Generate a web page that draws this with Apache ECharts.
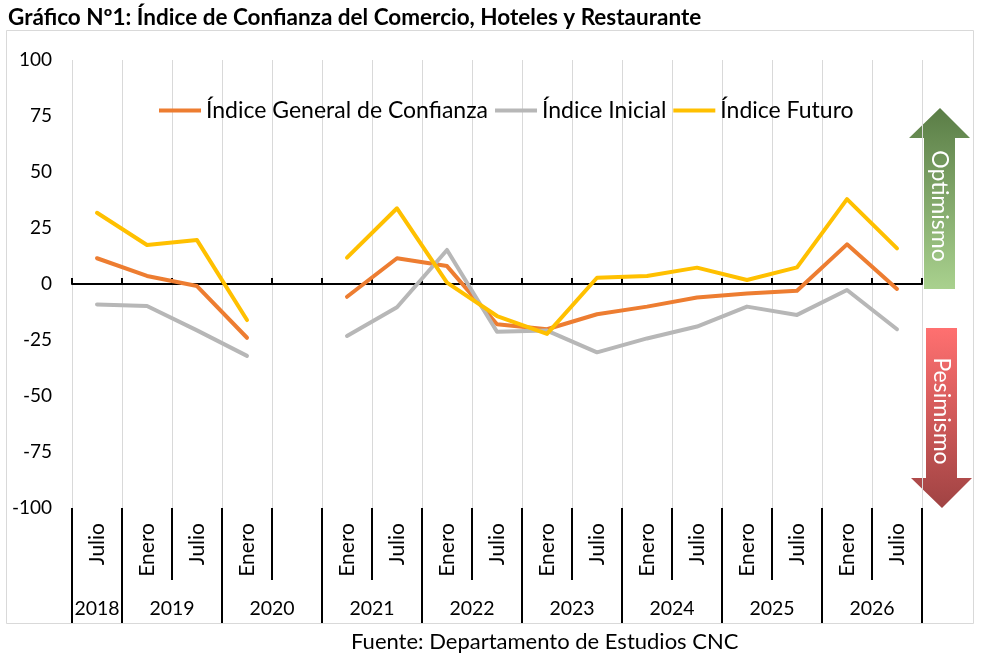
<!DOCTYPE html>
<html>
<head>
<meta charset="utf-8">
<script src="https://cdn.jsdelivr.net/npm/echarts@6/dist/echarts.min.js"></script>
<style>
html, body { margin: 0; padding: 0; background: #fff; }
#chart { width: 982px; height: 656px; }
</style>
</head>
<body>
<div id="chart"></div>
<script>
// periodos (semestres); el hueco de julio 2020 queda sin dato
var months = ['Julio', 'Enero', 'Julio', 'Enero', '', 'Enero', 'Julio', 'Enero', 'Julio',
    'Enero', 'Julio', 'Enero', 'Julio', 'Enero', 'Julio', 'Enero', 'Julio'];
var years = ['2018', '2019', '2019', '2020', '2020', '2021', '2021', '2022', '2022',
    '2023', '2023', '2024', '2024', '2025', '2025', '2026', '2026'];

var indiceGeneral = [11.5, 3.6, -0.9, -24.0, null, -5.7, 11.5, 8.0, -18.0,
    -20.2, -13.5, -10.1, -6.0, -4.2, -3.0, 17.7, -2.2];
var indiceInicial = [-9.1, -9.8, -20.7, -32.1, null, -23.2, -10.4, 15.2, -21.3,
    -20.8, -30.5, -24.3, -19.0, -10.1, -13.8, -2.7, -20.2];
var indiceFuturo = [31.8, 17.4, 19.6, -16.1, null, 11.8, 33.8, 0.6, -14.3,
    -22.3, 2.8, 3.6, 7.3, 1.8, 7.4, 37.9, 15.9];

var yTicks = [-100, -75, -50, -25, 0, 25, 50, 75, 100];

var FONT = 'Lato';
var categories = months.map(function (m, i) { return i; });

// centro de cada año en unidades de categoria
var yearPos = {};
years.forEach(function (y, i) {
    if (!yearPos[y]) yearPos[y] = [];
    yearPos[y].push(i + 0.5);
});
var yearCenters = Object.keys(yearPos).map(function (y) {
    var a = yearPos[y];
    return { year: y, pos: a.reduce(function (s, v) { return s + v; }, 0) / a.length };
});

var chart = echarts.init(document.getElementById('chart'));

var option = {
    backgroundColor: '#fff',
    animation: false,
    textStyle: { fontFamily: FONT },
    title: [{
        text: 'Gráfico Nº1: Índice de Confianza del Comercio, Hoteles y Restaurante',
        left: 3, top: 1,
        textStyle: { fontFamily: FONT, fontSize: 22.5, fontWeight: 'bold', color: '#000' }
    }, {
        text: 'Fuente: Departamento de Estudios CNC',
        left: 346, top: 626,
        textStyle: { fontFamily: FONT, fontSize: 22, fontWeight: 'normal', color: '#000' }
    }],
    legend: {
        left: 154, top: 94,
        itemWidth: 42, itemHeight: 4, itemGap: 7,
        icon: 'rect',
        textStyle: { fontFamily: FONT, fontSize: 23, color: '#000' },
        data: ['Índice General de Confianza', 'Índice Inicial', 'Índice Futuro']
    },
    grid: { left: 72, right: 60, top: 60, bottom: 148 },
    xAxis: [{
        // eje en cero
        type: 'category', data: categories, boundaryGap: true,
        axisLine: { onZero: true, lineStyle: { color: '#000', width: 2 } },
        axisTick: { show: true, inside: true, length: 6, interval: 0, lineStyle: { color: '#000', width: 2 } },
        axisLabel: { show: false },
        splitLine: { show: true, interval: 0, lineStyle: { color: '#d9d9d9', width: 1 } }
    }, {
        // meses
        type: 'category', data: categories, position: 'bottom', boundaryGap: true,
        axisLine: { show: false, onZero: false },
        axisTick: { show: true, length: 72, interval: 0, lineStyle: { color: '#000', width: 2 } },
        axisLabel: {
            interval: 0, rotate: 90, margin: 15, fontSize: 21, color: '#000', fontFamily: FONT,
            formatter: function (v) { return months[v]; }
        },
        splitLine: { show: false }
    }, {
        // separadores de año
        type: 'category', data: categories, position: 'bottom', boundaryGap: true,
        axisLine: { show: false, onZero: false },
        axisTick: {
            show: true, length: 115, lineStyle: { color: '#000', width: 2 },
            interval: function (i) { return i === 0 || years[i] !== years[i - 1]; }
        },
        axisLabel: { show: false },
        splitLine: { show: false }
    }, {
        // años
        type: 'value', position: 'bottom', min: 0, max: months.length, interval: 0.5,
        axisLine: { show: false, onZero: false },
        axisTick: { show: false },
        splitLine: { show: false },
        axisLabel: {
            margin: 91, fontSize: 19.5, color: '#000', fontFamily: FONT,
            showMinLabel: true, showMaxLabel: true,
            formatter: function (v) {
                for (var k = 0; k < yearCenters.length; k++) {
                    if (Math.abs(yearCenters[k].pos - v) < 1e-6) return yearCenters[k].year;
                }
                return '';
            }
        }
    }],
    yAxis: {
        type: 'value', min: yTicks[0], max: yTicks[yTicks.length - 1], interval: 25,
        axisLine: { show: false }, axisTick: { show: false }, splitLine: { show: false },
        axisLabel: { margin: 20, fontSize: 19, color: '#000', fontFamily: FONT }
    },
    series: [{
        name: 'Índice General de Confianza', type: 'line', data: indiceGeneral,
        symbol: 'none', connectNulls: false, color: '#ed7d31',
        lineStyle: { width: 4, cap: 'round', join: 'round' }
    }, {
        name: 'Índice Inicial', type: 'line', data: indiceInicial,
        symbol: 'none', connectNulls: false, color: '#b7b7b7',
        lineStyle: { width: 4, cap: 'round', join: 'round' }
    }, {
        name: 'Índice Futuro', type: 'line', data: indiceFuturo,
        symbol: 'none', connectNulls: false, color: '#ffc000',
        lineStyle: { width: 4, cap: 'round', join: 'round' }
    }],
    graphic: [{
        type: 'rect', z: -10, silent: true,
        shape: { x: 6.5, y: 30.5, width: 967, height: 593 },
        style: { fill: null, stroke: '#d9d9d9', lineWidth: 1 }
    }, {
        type: 'polygon', silent: true,
        shape: { points: [[940, 108], [970, 138], [955, 138], [955, 289], [924, 289], [924, 138], [909, 138]] },
        style: {
            fill: { type: 'linear', x: 0, y: 0, x2: 0, y2: 1,
                colorStops: [{ offset: 0, color: '#5a7d46' }, { offset: 1, color: '#a9d18e' }] }
        }
    }, {
        type: 'polygon', silent: true,
        shape: { points: [[926, 328], [957, 328], [957, 478], [972, 478], [942, 508], [911, 478], [926, 478]] },
        style: {
            fill: { type: 'linear', x: 0, y: 0, x2: 0, y2: 1,
                colorStops: [{ offset: 0, color: '#ff7070' }, { offset: 1, color: '#a04343' }] }
        }
    }, {
        type: 'text', silent: true, x: 939, y: 206, rotation: -Math.PI / 2,
        style: { text: 'Optimismo', fill: '#fff', font: '23px ' + FONT, align: 'center', verticalAlign: 'middle' }
    }, {
        type: 'text', silent: true, x: 941, y: 411, rotation: -Math.PI / 2,
        style: { text: 'Pesimismo', fill: '#fff', font: '23px ' + FONT, align: 'center', verticalAlign: 'middle' }
    }]
};

chart.setOption(option);
</script>
</body>
</html>
